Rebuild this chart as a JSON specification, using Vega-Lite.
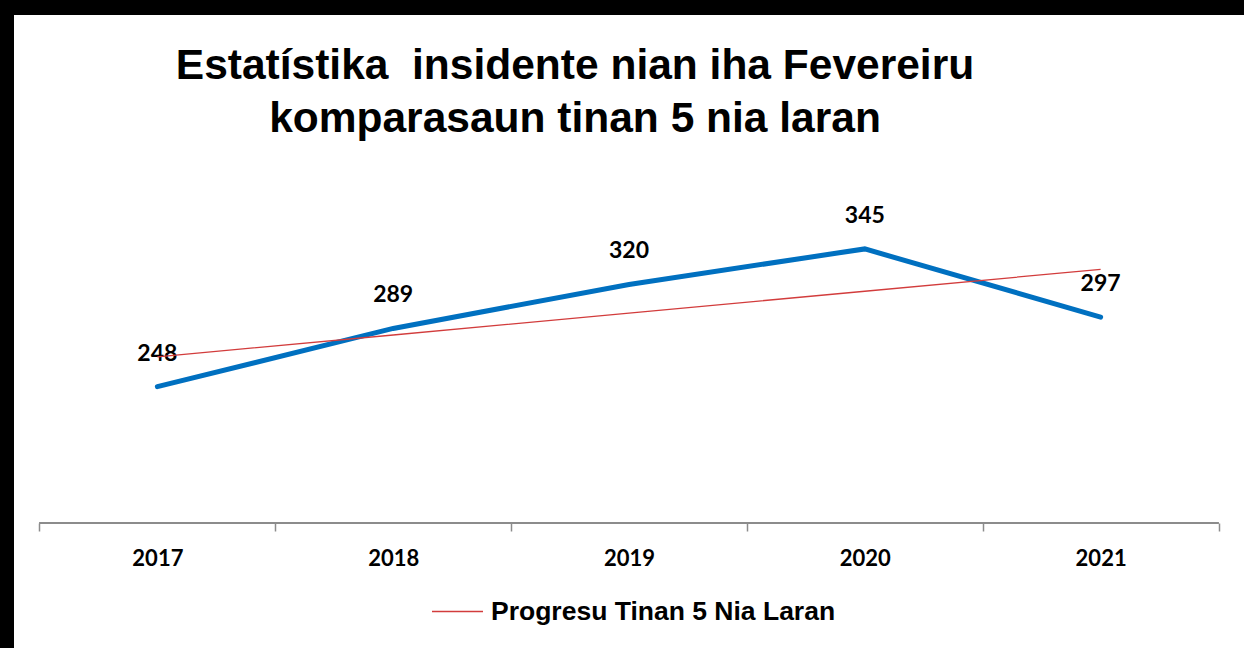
{
  "$schema": "https://vega.github.io/schema/vega-lite/v6.json",
  "width": 1230,
  "height": 633,
  "autosize": "none",
  "padding": {"left": 14, "top": 15, "right": 0, "bottom": 0},
  "background": "#000000",
  "config": {"view": {"fill": "#ffffff", "stroke": null}},
  "title": {
    "text": ["Estatístika\u00a0\u00a0insidente nian iha Fevereiru", "komparasaun tinan 5 nia laran"],
    "anchor": "middle",
    "dx": -54,
    "offset": -125,
    "font": "Liberation Sans",
    "fontSize": 42.5,
    "fontWeight": "bold",
    "color": "#000000",
    "lineHeight": 53
  },
  "data": {
    "values": [
      {"year": "2017", "incidents": 248, "trend": 269.0},
      {"year": "2018", "incidents": 289, "trend": 284.4},
      {"year": "2019", "incidents": 320, "trend": 299.8},
      {"year": "2020", "incidents": 345, "trend": 315.2},
      {"year": "2021", "incidents": 297, "trend": 330.6}
    ]
  },
  "encoding": {
    "x": {
      "field": "year",
      "type": "ordinal",
      "scale": {"type": "band", "paddingInner": 0, "paddingOuter": 0.108},
      "axis": {
        "title": null,
        "offset": -125,
        "tickBand": "extent",
        "domain": false,
        "tickColor": "#8c8c8c",
        "tickWidth": 1.5,
        "tickSize": 8,
        "labelFont": "Lato",
        "labelFontWeight": "bold",
        "labelFontSize": 22,
        "labelColor": "#000000",
        "labelPadding": 17,
        "labelAngle": 0
      }
    }
  },
  "layer": [
    {
      "mark": {"type": "rule", "color": "#8c8c8c", "strokeWidth": 1.5},
      "encoding": {
        "x": {"datum": "2017", "bandPosition": 0},
        "x2": {"datum": "2021", "bandPosition": 1},
        "y": {"datum": 152, "type": "quantitative", "axis": null}
      }
    },
    {
      "mark": {"type": "line", "color": "#0070C0", "strokeWidth": 5, "strokeCap": "round"},
      "encoding": {
        "y": {"field": "incidents", "type": "quantitative", "scale": {"domain": [64, 509.7], "nice": false, "zero": false}, "axis": null}
      }
    },
    {
      "mark": {"type": "text", "dy": -33, "baseline": "middle", "font": "Lato", "fontWeight": "bold", "fontSize": 23, "color": "#000000"},
      "encoding": {
        "y": {"field": "incidents", "type": "quantitative", "axis": null},
        "text": {"field": "incidents", "type": "quantitative"}
      }
    },
    {
      "mark": {"type": "line", "strokeWidth": 1.3},
      "encoding": {
        "y": {"field": "trend", "type": "quantitative", "axis": null},
        "color": {
          "datum": "Progresu Tinan 5 Nia Laran",
          "type": "nominal",
          "scale": {"range": ["#d23c3c"]},
          "legend": {
            "title": null,
            "orient": "none",
            "legendX": 417,
            "legendY": 570,
            "padding": 0,
            "symbolType": "stroke",
            "symbolSize": 2601,
            "symbolStrokeWidth": 1.3,
            "labelFont": "Liberation Sans",
            "labelFontWeight": "bold",
            "labelFontSize": 26.5,
            "labelColor": "#000000",
            "labelOffset": 7,
            "labelLimit": 0
          }
        }
      }
    }
  ]
}
